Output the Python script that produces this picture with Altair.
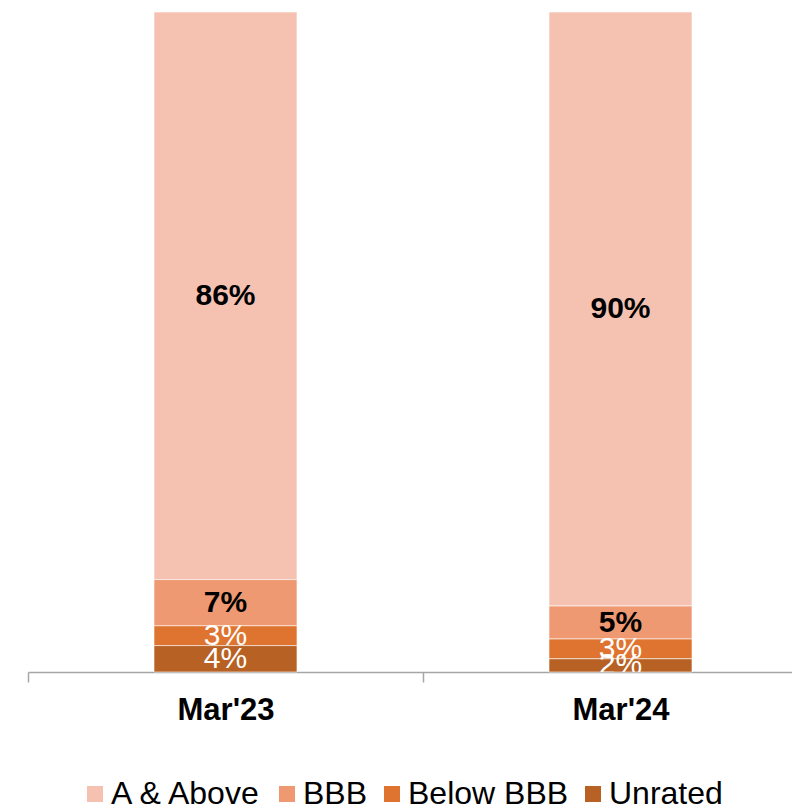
import altair as alt
import pandas as pd

periods = ["Mar'23", "Mar'24"]
ratings = ["A & Above", "BBB", "Below BBB", "Unrated"]
mar23 = [86, 7, 3, 4]
mar24 = [90, 5, 3, 2]
colors = ["#F5C2B1", "#EF9973", "#DE742F", "#B86124"]
stack_rank = {"Unrated": 0, "Below BBB": 1, "BBB": 2, "A & Above": 3}
dark_labels = ["A & Above", "BBB"]
light_labels = ["Below BBB", "Unrated"]

rows = []
for p, vals in zip(periods, [mar23, mar24]):
    for r, v in zip(ratings, vals):
        rows.append({"period": p, "rating": r, "value": v,
                     "rank": stack_rank[r], "label": f"{v}%"})
df = pd.DataFrame(rows)

FONT = "Liberation Sans"

xscale = alt.Scale(domain=periods, range=[0, 790], paddingInner=0, paddingOuter=0)
yscale = alt.Scale(domain=[0, 100], nice=False)

x_axis = alt.X(
    "period:N", sort=periods, title=None, scale=xscale,
    axis=alt.Axis(labelAngle=0, labelFont=FONT, labelFontSize=31,
                  labelFontWeight="bold", labelColor="#000000",
                  domainColor="#A6A6A6", domainWidth=1.5,
                  tickColor="#A6A6A6", tickWidth=1.5, tickSize=10,
                  tickBand="extent", labelPadding=13, grid=False),
)

bars = alt.Chart(df).mark_bar(
    width=alt.RelativeBandSize(0.362), stroke="#FFFFFF", strokeWidth=0.6
).encode(
    x=x_axis,
    y=alt.Y("value:Q", stack="zero", scale=yscale, axis=None),
    order=alt.Order("rank:Q", sort="ascending"),
    color=alt.Color(
        "rating:N",
        scale=alt.Scale(domain=ratings, range=colors),
        legend=alt.Legend(
            orient="none", legendX=51, legendY=766, direction="horizontal",
            columns=4, title=None, symbolType="square", symbolSize=256,
            symbolStrokeWidth=0, labelFont=FONT, labelFontSize=32,
            labelColor="#000000", labelOffset=0, columnPadding=8, padding=0,
            labelLimit=400,
        ),
    ),
)

base = alt.Chart(df).transform_stack(
    stack="value", groupby=["period"], as_=["v0", "v1"],
    sort=[alt.SortField("rank", order="ascending")],
).transform_calculate(mid="(datum.v0 + datum.v1) / 2")

text_dark = base.transform_filter(
    alt.FieldOneOfPredicate(field="rating", oneOf=dark_labels)
).mark_text(
    font=FONT, fontSize=30, fontWeight="bold", color="#000000",
    baseline="middle", clip=True,
).encode(
    x=alt.X("period:N", sort=periods, scale=xscale, title=None),
    y=alt.Y("mid:Q", scale=yscale, axis=None),
    text="label:N",
)

text_light = base.transform_filter(
    alt.FieldOneOfPredicate(field="rating", oneOf=light_labels)
).mark_text(
    font=FONT, fontSize=30, color="#FFFFFF", baseline="middle", clip=True,
).encode(
    x=alt.X("period:N", sort=periods, scale=xscale, title=None),
    y=alt.Y("mid:Q", scale=yscale, axis=None),
    text="label:N",
)

chart = alt.layer(bars, text_dark, text_light).properties(
    width=764, height=660,
    autosize=alt.AutoSizeParams(type="none"),
    padding={"left": 20, "top": 4, "right": 0, "bottom": 136},
).configure_view(stroke=None)

chart.save("out.html", embed_options={"renderer": "svg", "actions": False})
